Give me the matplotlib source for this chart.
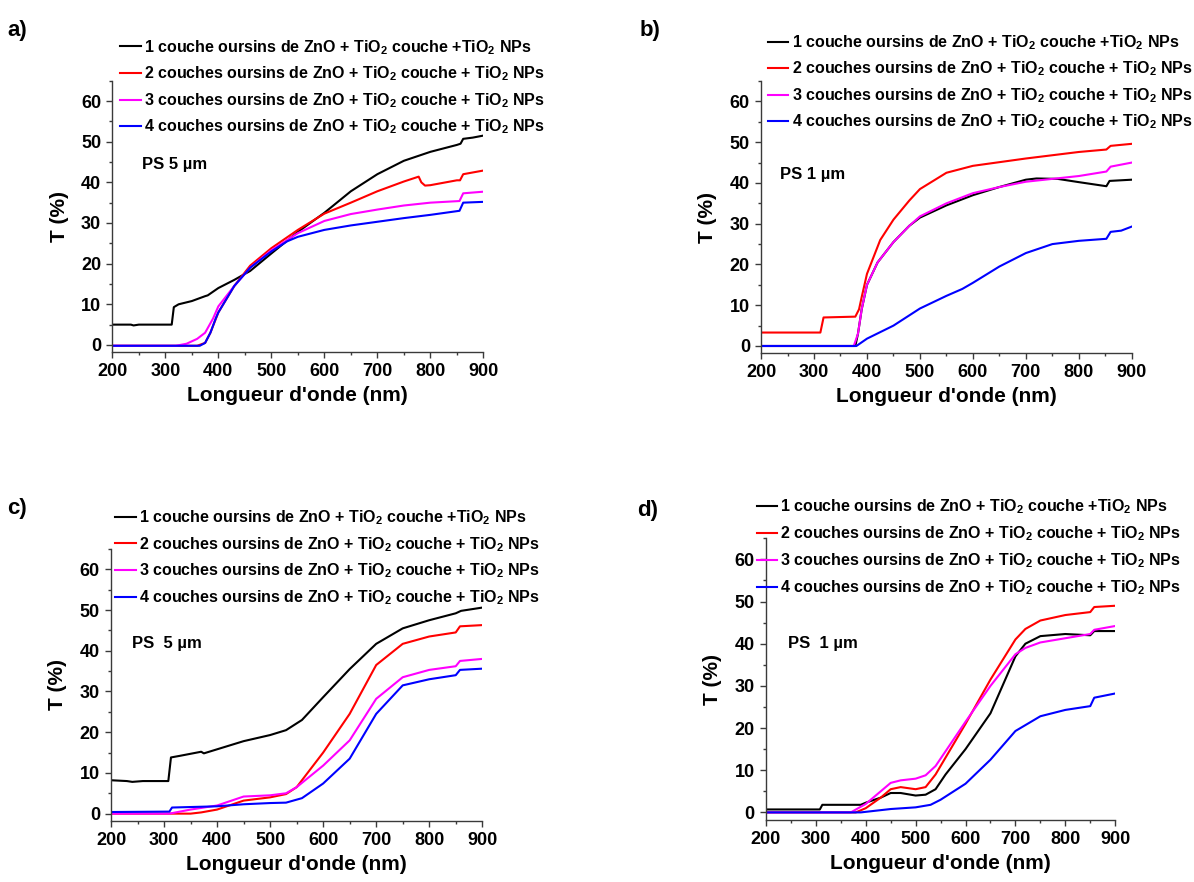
import matplotlib
matplotlib.use('Agg')
import matplotlib.pyplot as plt
from matplotlib.ticker import MultipleLocator

plt.rcParams['font.family'] = ['Liberation Sans', 'DejaVu Sans']
plt.rcParams['font.weight'] = 'bold'
plt.rcParams['mathtext.fontset'] = 'custom'
plt.rcParams['mathtext.rm'] = 'Liberation Sans:bold'
plt.rcParams['mathtext.it'] = 'Liberation Sans:bold'
plt.rcParams['mathtext.bf'] = 'Liberation Sans:bold'
plt.rcParams['mathtext.default'] = 'rm'

# legend labels (same for all panels)
labels = ['1 couche oursins de ZnO + TiO$_2$ couche +TiO$_2$ NPs',
          '2 couches oursins de ZnO + TiO$_2$ couche + TiO$_2$ NPs',
          '3 couches oursins de ZnO + TiO$_2$ couche + TiO$_2$ NPs',
          '4 couches oursins de ZnO + TiO$_2$ couche + TiO$_2$ NPs']
colors = ['black', 'red', 'magenta', 'blue']

# ---- panel a) PS 5 um
a_black_x = [200, 235, 240, 250, 312, 316, 325, 350, 375, 380, 400, 430, 460, 500, 550, 600, 650, 700, 750, 800, 850, 857, 862, 880, 900]
a_black_y = [5.0, 5.0, 4.8, 5.0, 5.0, 9.3, 10.0, 10.8, 12.0, 12.2, 14.0, 16.0, 18.2, 22.5, 27.8, 32.5, 37.8, 42.0, 45.3, 47.5, 49.2, 49.5, 50.7, 51.0, 51.5]
a_red_x = [200, 360, 375, 385, 400, 430, 460, 500, 550, 600, 650, 700, 750, 778, 783, 790, 800, 850, 856, 862, 900]
a_red_y = [-0.2, -0.2, 0.5, 3.0, 8.0, 14.5, 19.5, 23.8, 28.3, 32.3, 35.0, 37.8, 40.2, 41.4, 40.0, 39.2, 39.3, 40.5, 40.5, 42.0, 42.9]
a_mag_x = [200, 320, 340, 360, 375, 390, 400, 430, 460, 500, 550, 600, 650, 700, 750, 800, 855, 862, 900]
a_mag_y = [-0.2, -0.2, 0.3, 1.5, 3.0, 6.5, 9.5, 14.5, 19.0, 23.3, 27.5, 30.5, 32.2, 33.3, 34.3, 35.0, 35.4, 37.3, 37.7]
a_blue_x = [200, 365, 375, 385, 395, 400, 430, 460, 500, 530, 550, 600, 650, 700, 750, 800, 855, 862, 900]
a_blue_y = [-0.2, -0.2, 0.5, 3.0, 6.5, 8.0, 14.5, 19.0, 23.0, 25.5, 26.6, 28.3, 29.4, 30.3, 31.2, 32.0, 33.0, 35.0, 35.2]

# ---- panel b) PS 1 um
b_black_x = [200, 378, 383, 390, 400, 420, 450, 480, 500, 550, 600, 650, 700, 720, 760, 800, 852, 858, 900]
b_black_y = [0, 0, 3, 9, 15, 20.5, 25.5, 29.5, 31.5, 34.5, 37.0, 39.0, 40.8, 41.1, 41.0, 40.2, 39.2, 40.5, 40.8]
b_red_x = [200, 312, 318, 378, 385, 390, 400, 425, 450, 480, 500, 550, 600, 700, 800, 852, 860, 900]
b_red_y = [3.3, 3.3, 7.0, 7.2, 9.0, 12.0, 17.7, 26.0, 31.0, 35.7, 38.5, 42.5, 44.2, 46.0, 47.6, 48.2, 49.1, 49.6]
b_mag_x = [200, 375, 383, 390, 400, 420, 450, 480, 500, 550, 600, 650, 700, 750, 800, 852, 860, 900]
b_mag_y = [0, 0, 3, 9, 15, 20.5, 25.5, 29.5, 31.8, 35.0, 37.5, 39.0, 40.3, 41.0, 41.7, 42.8, 44.0, 45.0]
b_blue_x = [200, 380, 400, 450, 500, 550, 580, 600, 650, 700, 750, 800, 852, 860, 880, 900]
b_blue_y = [0, 0, 1.8, 5.0, 9.2, 12.3, 14.0, 15.5, 19.5, 22.8, 25.0, 25.8, 26.3, 28.0, 28.3, 29.3]

# ---- panel c) PS 5 um
c_black_x = [200, 230, 240, 260, 308, 313, 330, 370, 375, 400, 450, 500, 530, 560, 600, 650, 700, 750, 800, 850, 860, 900]
c_black_y = [8.2, 8.0, 7.8, 8.0, 8.0, 13.8, 14.2, 15.2, 14.8, 15.8, 17.8, 19.3, 20.5, 23.0, 28.6, 35.5, 41.7, 45.5, 47.5, 49.2, 49.8, 50.6]
c_red_x = [200, 350, 370, 400, 450, 500, 530, 550, 600, 650, 700, 750, 800, 850, 858, 900]
c_red_y = [0, 0, 0.3, 1.0, 3.2, 4.0, 4.8, 6.5, 15.0, 24.5, 36.5, 41.7, 43.5, 44.5, 46.0, 46.3]
c_mag_x = [200, 310, 350, 400, 450, 500, 530, 550, 600, 650, 700, 750, 800, 850, 858, 900]
c_mag_y = [0, 0, 1.0, 2.0, 4.2, 4.5, 5.0, 6.5, 11.8, 18.0, 28.2, 33.5, 35.3, 36.2, 37.5, 38.0]
c_blue_x = [200, 310, 315, 400, 450, 500, 530, 560, 600, 650, 700, 750, 800, 850, 858, 900]
c_blue_y = [0.4, 0.5, 1.5, 1.8, 2.3, 2.6, 2.7, 3.8, 7.4, 13.5, 24.5, 31.5, 33.0, 34.0, 35.3, 35.6]

# ---- panel d) PS 1 um
d_black_x = [200, 308, 313, 390, 400, 430, 450, 470, 500, 520, 540, 560, 600, 650, 700, 720, 750, 800, 850, 858, 900]
d_black_y = [0.7, 0.7, 1.8, 1.8, 2.3, 3.5, 4.6, 4.6, 4.0, 4.2, 5.5, 9.0, 15.0, 23.5, 37.0, 40.0, 41.8, 42.3, 42.0, 43.0, 43.0]
d_red_x = [200, 380, 400, 430, 450, 470, 500, 520, 540, 560, 600, 650, 700, 720, 750, 800, 850, 858, 900]
d_red_y = [0, 0, 1.0, 3.5, 5.5, 6.0, 5.5, 6.0, 9.0, 13.0, 21.0, 31.5, 41.0, 43.5, 45.5, 46.8, 47.5, 48.7, 49.0]
d_mag_x = [200, 370, 400, 430, 450, 470, 500, 520, 540, 560, 600, 650, 700, 720, 750, 800, 850, 858, 900]
d_mag_y = [0, 0, 2.0, 5.0, 7.0, 7.6, 8.0, 8.8, 11.0, 14.5, 21.5, 30.0, 37.5, 39.0, 40.3, 41.3, 42.3, 43.3, 44.2]
d_blue_x = [200, 390, 450, 500, 530, 550, 600, 650, 700, 750, 800, 850, 858, 900]
d_blue_y = [0, 0, 0.8, 1.2, 1.8, 3.0, 6.8, 12.5, 19.3, 22.8, 24.3, 25.2, 27.2, 28.2]

panel_tags = ['a)', 'b)', 'c)', 'd)']
ps_texts = ['PS 5 µm', 'PS 1 µm', 'PS  5 µm', 'PS  1 µm']
ps_pos = [(255, 44.3), (236, 42), (240, 41.8), (245, 40)]

panels = [
    [(a_black_x, a_black_y), (a_red_x, a_red_y), (a_mag_x, a_mag_y), (a_blue_x, a_blue_y)],
    [(b_black_x, b_black_y), (b_red_x, b_red_y), (b_mag_x, b_mag_y), (b_blue_x, b_blue_y)],
    [(c_black_x, c_black_y), (c_red_x, c_red_y), (c_mag_x, c_mag_y), (c_blue_x, c_blue_y)],
    [(d_black_x, d_black_y), (d_red_x, d_red_y), (d_mag_x, d_mag_y), (d_blue_x, d_blue_y)],
]

# axes rectangles in figure fraction (left, bottom, width, height)
rects = [[0.0941, 0.6006, 0.3107, 0.3079],
         [0.6374, 0.5994, 0.3105, 0.3087],
         [0.0930, 0.0692, 0.3109, 0.3084],
         [0.6415, 0.0703, 0.2925, 0.3194]]
leg_anchor = [(0.021, 1.157), (0.018, 1.176), (0.011, 1.150), (-0.027, 1.146)]
leg_spacing = [0.49, 0.49, 0.50, 0.52]
tag_pos = [(0.006, 0.965), (0.536, 0.965), (0.006, 0.424), (0.534, 0.421)]

fig = plt.figure(figsize=(11.94, 8.82), dpi=100)
spine_c = '#3a3a3a'

for i in range(4):
    ax = fig.add_axes(rects[i])
    for (xs, ys), c, lab in zip(panels[i], colors, labels):
        ax.plot(xs, ys, color=c, lw=1.5, label=lab)
    ax.set_xlim(200, 900)
    ax.set_ylim(-1.8, 65)
    ax.xaxis.set_major_locator(MultipleLocator(100))
    ax.xaxis.set_minor_locator(MultipleLocator(50))
    ax.yaxis.set_major_locator(MultipleLocator(10))
    ax.yaxis.set_minor_locator(MultipleLocator(5))
    ax.set_yticks(range(0, 61, 10))
    for s in ['top', 'right']:
        ax.spines[s].set_visible(False)
    for s in ['left', 'bottom']:
        ax.spines[s].set_color(spine_c)
        ax.spines[s].set_linewidth(1.0)
    ax.tick_params(which='major', direction='out', length=4, width=1, color=spine_c,
                   labelsize=13, pad=4)
    ax.tick_params(which='minor', direction='out', length=2.5, width=1, color=spine_c)
    for lbl in ax.get_xticklabels() + ax.get_yticklabels():
        lbl.set_fontweight('bold')
    ax.set_xlabel("Longueur d'onde (nm)", fontsize=15, fontweight='bold', labelpad=4)
    ax.set_ylabel('T (%)', fontsize=15, fontweight='bold', labelpad=9)
    ax.text(ps_pos[i][0], ps_pos[i][1], ps_texts[i], fontsize=12, fontweight='bold',
            va='center', ha='left')
    ax.legend(loc='upper left', bbox_to_anchor=leg_anchor[i], frameon=False,
              fontsize=11.5, handlelength=1.3, handletextpad=0.2,
              labelspacing=leg_spacing[i], borderpad=0, borderaxespad=0)
    fig.text(tag_pos[i][0], tag_pos[i][1], panel_tags[i], fontsize=16, fontweight='bold',
             va='center', ha='left')

fig.savefig('out.png', dpi=100)
